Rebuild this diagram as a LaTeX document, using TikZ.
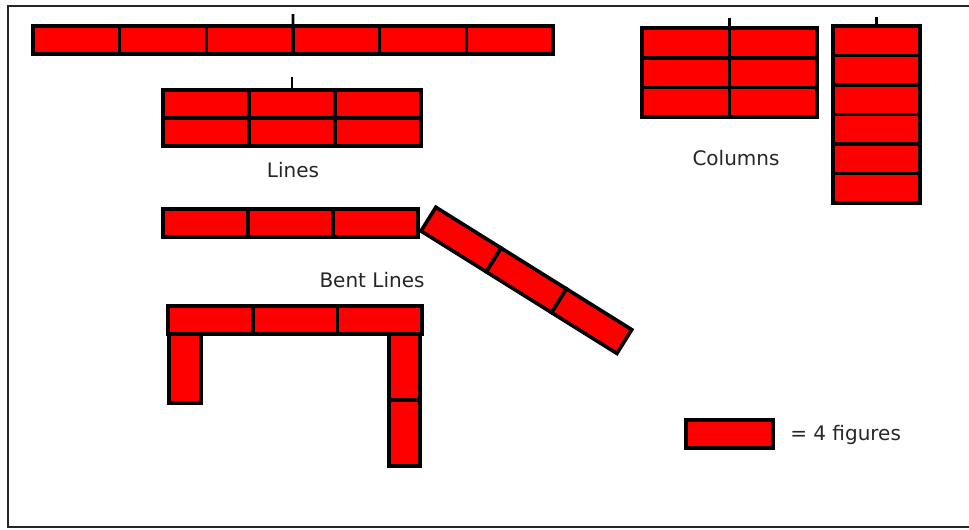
\documentclass[tikz,border=0pt]{standalone}
\usepackage{fontspec}
\setmainfont{DejaVu Sans}

\tikzset{
  brick/.style 2 args={draw, fill=red, line width=2.7pt, inner sep=0pt, outer sep=0pt,
    anchor=north west, minimum width=#1*0.75pt, minimum height=#2*0.75pt},
  tick/.style={line width=2.2pt},
  frame/.style={line width=1.6pt, black!85},
  caption/.style={font=\fontsize{15}{18}\selectfont, text=black!85, inner sep=0pt}
}

\begin{document}
\begin{tikzpicture}[x=0.75pt, y=-0.75pt]
  \useasboundingbox (0,0) rectangle (969,529);
  \draw[frame] (969,6) -- (8,6) -- (8,527) -- (969,527);

  % lines
  \foreach \i in {0,...,5}
    \node[brick={86.67}{28}] (top-\i) at ({33+86.67*\i},26) {};
  \coordinate (top-tick) at (293,14);
  \draw[tick] (top-3.north west) -- (top-tick);

  \foreach \r in {0,1}
    \foreach \c in {0,1,2}
      \node[brick={86}{28}] (ln-\r-\c) at ({163+86*\c},{90+28*\r}) {};
  \coordinate (ln-tick) at (292,77);
  \draw[tick] (ln-0-1.north) -- (ln-tick);
  \node[caption] (lines) at (293,170) {Lines};

  % bent lines
  \foreach \i in {0,1,2}
    \node[brick={85}{28}] (bt-\i) at ({163+85*\i},209) {};
  \begin{scope}[shift={(421,231)}, rotate=-32, transform shape]
    \foreach \i in {0,1,2}
      \node[brick={77}{28}, anchor=south west] (dg-\i) at ({77*\i},0) {};
  \end{scope}
  \node[caption] (bent) at (372,280) {Bent Lines};

  \foreach \i in {0,1,2}
    \node[brick={84.7}{28}] (u-\i) at ({168+84.7*\i},306) {};
  \node[brick={32}{69}] (u-left) at (169,334) {};
  \node[brick={31}{66}] (u-right-0) at (389,334) {};
  \node[brick={31}{66}] (u-right-1) at (389,400) {};

  % columns
  \foreach \r in {0,1,2}
    \foreach \c in {0,1}
      \node[brick={87.5}{29.7}] (cl-\r-\c) at ({642+87.5*\c},{28+29.7*\r}) {};
  \coordinate (cl-tick) at (729.5,18);
  \draw[tick] (cl-0-1.north west) -- (cl-tick);

  \foreach \r in {0,...,5}
    \node[brick={87}{29.5}] (cr-\r) at (833,{26+29.5*\r}) {};
  \coordinate (cr-tick) at (876.5,17);
  \draw[tick] (cr-0.north) -- (cr-tick);
  \node[caption] (columns) at (736,158) {Columns};

  % legend
  \node[brick={87}{28}] (key) at (686,420) {};
  \node[caption, anchor=west] (key-text) at (790,435) {= 4 figures};
\end{tikzpicture}
\end{document}
